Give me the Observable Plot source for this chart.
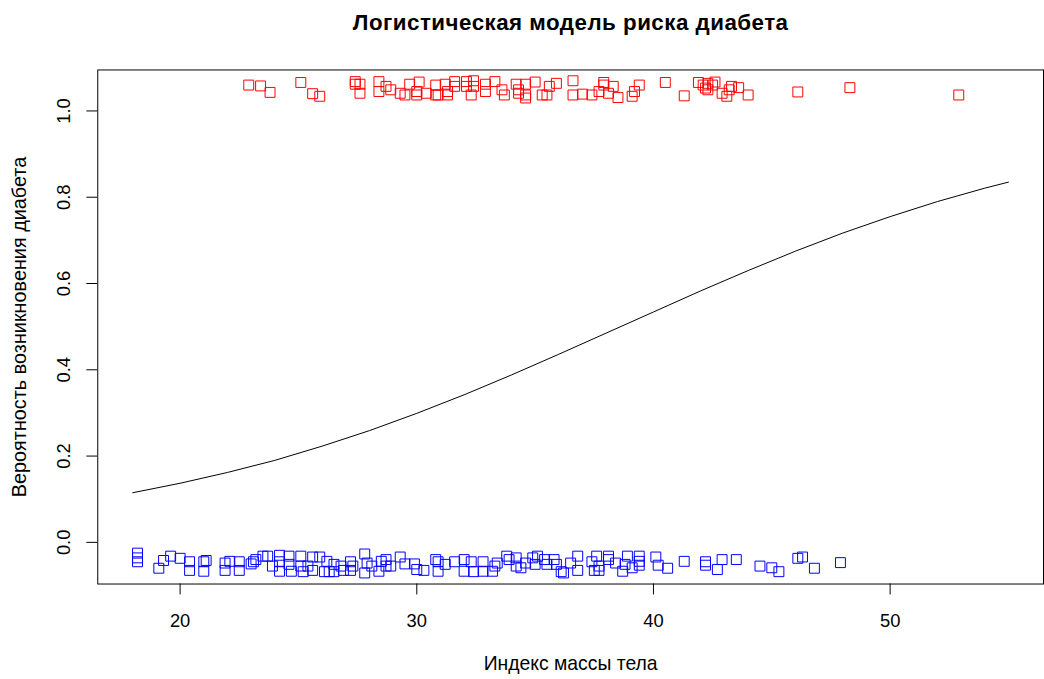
<!DOCTYPE html>
<html>
<head>
<meta charset="utf-8">
<script src="https://cdn.jsdelivr.net/npm/d3@7"></script>
<script src="https://cdn.jsdelivr.net/npm/@observablehq/plot@0.6"></script>
<style>
  html, body { margin: 0; padding: 0; background: #fff; overflow: hidden; }
  #chart svg { display: block; }
</style>
</head>
<body>
<div id="chart"></div>
<script>
// Пациенты с диабетом (ИМТ, значение 1 с вертикальным разбросом)
const diabBMI = [22.9,23.4,23.8,25.1,25.6,25.9,27.4,27.4,27.6,27.6,28.4,28.4,28.7,28.9,29.3,29.5,29.7,30.0,30.1,30.0,
  30.4,30.8,30.8,30.9,31.2,31.3,31.3,31.6,31.6,32.1,32.1,32.4,32.4,32.3,32.9,32.9,33.3,33.6,33.7,34.2,
  34.3,34.3,34.6,34.6,34.6,35.0,35.3,35.5,35.6,35.9,36.6,36.6,37.0,37.4,37.7,37.9,37.9,38.1,38.3,38.5,
  39.1,39.2,39.4,40.5,41.3,41.9,42.2,42.3,42.5,42.1,42.3,42.6,42.9,43.1,43.2,43.3,43.6,44.0,46.1,48.3,52.9];
const diabJit = [1.060,1.058,1.043,1.066,1.040,1.034,1.068,1.062,1.062,1.041,1.068,1.045,1.057,1.049,1.041,1.037,1.062,1.045,1.067,1.037,
  1.041,1.060,1.037,1.037,1.062,1.037,1.045,1.068,1.057,1.068,1.057,1.070,1.057,1.037,1.062,1.045,1.068,1.049,1.037,1.062,
  1.049,1.041,1.062,1.037,1.030,1.067,1.037,1.037,1.057,1.064,1.070,1.037,1.039,1.037,1.045,1.066,1.060,1.041,1.057,1.031,
  1.034,1.045,1.060,1.066,1.035,1.066,1.053,1.064,1.060,1.060,1.049,1.067,1.041,1.034,1.049,1.057,1.054,1.037,1.044,1.054,1.037];

// Пациенты без диабета (ИМТ, значение 0 с вертикальным разбросом)
const healthyBMI = [18.2,18.2,18.2,19.1,19.3,19.6,20.0,20.4,20.4,21.0,21.1,21.0,21.9,21.9,22.1,22.5,22.5,23.0,23.1,23.2,
  23.5,23.7,23.9,24.2,24.2,24.2,24.6,24.6,24.7,25.1,25.1,25.2,25.4,25.6,25.6,25.9,26.2,26.1,26.3,26.5,
  26.5,26.8,26.9,27.2,27.3,27.2,27.8,27.9,27.8,28.1,28.4,28.5,28.7,28.7,28.9,29.3,29.5,29.9,30.0,30.3,
  30.8,30.9,30.9,31.2,31.6,32.0,32.0,32.3,32.4,32.8,32.8,33.2,33.3,33.4,33.8,33.9,34.2,34.2,34.4,34.6,
  34.9,35.0,35.1,35.4,35.5,35.8,35.9,36.1,36.2,36.5,36.8,36.8,37.4,37.5,37.6,37.7,37.7,38.1,38.1,38.4,
  38.7,38.8,38.9,39.1,39.4,39.4,39.4,40.1,40.2,40.6,41.3,42.2,42.2,42.7,42.9,43.5,44.5,45.0,45.3,46.1,
  46.3,46.8,47.9];
const healthyJit = [-0.025,-0.036,-0.045,-0.060,-0.042,-0.032,-0.037,-0.045,-0.065,-0.045,-0.042,-0.067,-0.048,-0.065,-0.044,-0.045,-0.065,-0.050,-0.045,-0.040,
  -0.032,-0.032,-0.055,-0.030,-0.045,-0.067,-0.032,-0.051,-0.067,-0.032,-0.055,-0.068,-0.055,-0.034,-0.065,-0.034,-0.044,-0.068,-0.068,-0.051,
  -0.068,-0.055,-0.065,-0.045,-0.055,-0.065,-0.027,-0.048,-0.071,-0.055,-0.067,-0.044,-0.040,-0.055,-0.055,-0.034,-0.050,-0.050,-0.063,-0.065,
  -0.040,-0.045,-0.067,-0.051,-0.045,-0.040,-0.067,-0.045,-0.068,-0.045,-0.067,-0.067,-0.055,-0.048,-0.032,-0.040,-0.036,-0.055,-0.059,-0.048,
  -0.036,-0.051,-0.032,-0.040,-0.051,-0.040,-0.051,-0.068,-0.071,-0.048,-0.032,-0.065,-0.045,-0.065,-0.032,-0.055,-0.065,-0.032,-0.040,-0.048,
  -0.067,-0.051,-0.032,-0.059,-0.032,-0.044,-0.053,-0.034,-0.053,-0.060,-0.044,-0.045,-0.053,-0.063,-0.040,-0.040,-0.055,-0.059,-0.068,-0.037,
  -0.034,-0.060,-0.047];

// Предсказанная вероятность логистической модели
const curveBMI  = [18, 20, 22, 24, 26, 28, 30, 32, 34, 36, 38, 40, 42, 44, 46, 48, 50, 52, 54, 55];
const curveProb = [0.115,0.137,0.162,0.190,0.223,0.259,0.299,0.342,0.388,0.436,0.485,0.534,0.583,0.630,0.675,0.717,0.755,0.790,0.821,0.835];

const xTicks = [20, 30, 40, 50];
const yTicks = [0, 0.2, 0.4, 0.6, 0.8, 1.0];

const titleText = "Логистическая модель риска диабета";
const xTitle = "Индекс массы тела";
const yTitle = "Вероятность возникновения диабета";

const diab = diabBMI.map((x, i) => ({x, y: diabJit[i]}));
const healthy = healthyBMI.map((x, i) => ({x, y: healthyJit[i]}));
const curve = curveBMI.map((x, i) => ({x, y: curveProb[i]}));

const squareR = 10 / Math.sqrt(Math.PI);

const chart = Plot.plot({
  width: 1052,
  height: 679,
  marginLeft: 98,
  marginRight: 1,
  marginTop: 70,
  marginBottom: 91,
  style: {fontFamily: "'Liberation Sans', Arial, sans-serif", fontSize: "18.5px", color: "#000", background: "#fff"},
  x: {domain: [16.52, 56.48]},
  y: {domain: [-0.0966, 1.095]},
  marks: [
    Plot.frame({stroke: "#000"}),
    Plot.axisX({ticks: xTicks, tickSize: 11, tickPadding: 19, fontSize: 18.5, label: null, tickFormat: d3.format("d")}),
    Plot.axisY({ticks: yTicks, tickSize: 11, fill: "none", label: null}),
    Plot.text(yTicks, {y: d => d, frameAnchor: "left", dx: -33.5, rotate: -90, textAnchor: "middle", lineAnchor: "middle",
      text: d => d3.format(".1f")(d), fontSize: 18.5}),
    Plot.dot(healthy, {x: "x", y: "y", symbol: "square", r: squareR, stroke: "#0000ff", fill: "none", strokeWidth: 1}),
    Plot.dot(diab, {x: "x", y: "y", symbol: "square", r: squareR, stroke: "#ff0000", fill: "none", strokeWidth: 1}),
    Plot.line(curve, {x: "x", y: "y", stroke: "#000", strokeWidth: 1}),
    Plot.text([titleText], {frameAnchor: "top", dy: -40, lineAnchor: "bottom", fontWeight: "bold", fontSize: 22.5}),
    Plot.text([xTitle], {frameAnchor: "bottom", dy: 87, lineAnchor: "bottom", fontSize: 19.5}),
    Plot.text([yTitle], {frameAnchor: "left", dx: -79, rotate: -90, textAnchor: "middle", lineAnchor: "middle", fontSize: 20})
  ]
});

// немного разрядки для заголовка
d3.select(chart).selectAll("text")
  .filter(function() { return this.textContent === titleText; })
  .style("letter-spacing", "0.5px");

document.getElementById("chart").appendChild(chart);
</script>
</body>
</html>
